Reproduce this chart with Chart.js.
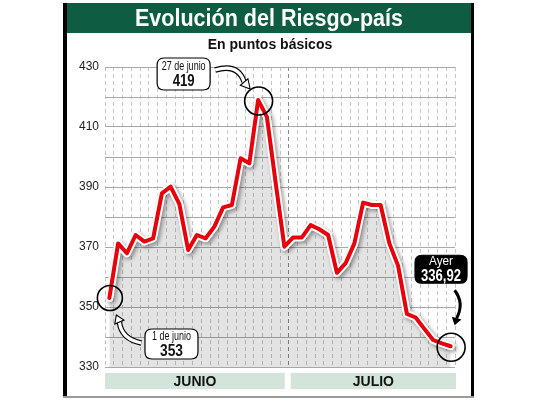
<!DOCTYPE html>
<html><head><meta charset="utf-8">
<script src="https://cdn.jsdelivr.net/npm/chart.js@4/dist/chart.umd.min.js"></script>
<style>html,body{margin:0;padding:0;background:#fff;}canvas{display:block;}</style>
</head><body>
<canvas id="c" width="540" height="405"></canvas>
<script>
// ---- data ----
const chartTitle = 'Evolución del Riesgo-país';
const chartSubtitle = 'En puntos básicos';
const monthNames = ['JUNIO', 'JULIO'];
const juneDays = ['1/6','2/6','5/6','6/6','7/6','8/6','9/6','12/6','13/6','14/6','15/6','16/6','19/6','21/6','22/6','23/6','26/6','27/6','28/6','29/6','30/6'];
const julyDays = ['3/7','4/7','5/7','6/7','7/7','10/7','11/7','12/7','13/7','14/7','17/7','18/7','19/7','20/7','21/7','24/7','25/7','26/7','27/7'];
const juneValues = [353, 371.2, 367.9, 374, 371.8, 372.9, 387.9, 390.1, 384.3, 369, 374, 372.9, 376.8, 383.2, 384, 399.6, 397.9, 419, 413.4, 391.5, 370.1];
const julyValues = [373.2, 373.2, 377.3, 375.9, 374, 361.4, 364.6, 371.2, 384.8, 384, 384, 371.2, 363.7, 347.7, 346.5, 342.7, 339, 337.9, 336.92];
const yTickLabels = [330, 350, 370, 390, 410, 430];
const calloutTop = ['1 de junio', '27 de junio', 'Ayer'];
const calloutValue = ['353', '419', '336,92'];
const calloutIndex = [0, 17, 39];

const labels = juneDays.concat(julyDays);
const values = juneValues.concat(julyValues);

const SANS = "'Liberation Sans', Arial, sans-serif";

function rrect(ctx, x, y, w, h, r) {
  ctx.beginPath();
  ctx.moveTo(x + r, y);
  ctx.lineTo(x + w - r, y); ctx.quadraticCurveTo(x + w, y, x + w, y + r);
  ctx.lineTo(x + w, y + h - r); ctx.quadraticCurveTo(x + w, y + h, x + w - r, y + h);
  ctx.lineTo(x + r, y + h); ctx.quadraticCurveTo(x, y + h, x, y + h - r);
  ctx.lineTo(x, y + r); ctx.quadraticCurveTo(x, y, x + r, y);
  ctx.closePath();
}
function fitText(ctx, text, cx, cy, font, targetW) {
  ctx.save();
  ctx.font = font;
  const w = ctx.measureText(text).width;
  ctx.translate(cx, cy);
  ctx.scale(Math.min(1, targetW / w), 1);
  ctx.textAlign = 'center'; ctx.textBaseline = 'middle';
  ctx.fillText(text, 0, 0);
  ctx.restore();
}
function arrow(ctx, t, c, b, tip, hollow) {
  const ang = Math.atan2(tip[1] - b[1], tip[0] - b[0]);
  const hw = 5;
  const px = Math.cos(ang + Math.PI / 2), py = Math.sin(ang + Math.PI / 2);
  const head = () => {
    ctx.beginPath();
    ctx.moveTo(tip[0], tip[1]);
    ctx.lineTo(b[0] + px * hw, b[1] + py * hw);
    ctx.lineTo(b[0] - px * hw, b[1] - py * hw);
    ctx.closePath();
  };
  const body = () => { ctx.beginPath(); ctx.moveTo(t[0], t[1]); ctx.quadraticCurveTo(c[0], c[1], b[0], b[1]); };
  ctx.lineCap = 'butt';
  if (hollow) {
    body(); ctx.strokeStyle = '#000'; ctx.lineWidth = 5.5; ctx.stroke();
    body(); ctx.strokeStyle = '#fff'; ctx.lineWidth = 3.2; ctx.stroke();
    head(); ctx.fillStyle = '#fff'; ctx.fill(); ctx.strokeStyle = '#000'; ctx.lineWidth = 1.1; ctx.stroke();
  } else {
    body(); ctx.strokeStyle = '#000'; ctx.lineWidth = 3; ctx.stroke();
    head(); ctx.fillStyle = '#000'; ctx.fill();
  }
}

const deco = {
  id: 'deco',
  beforeDraw(chart) {
    const ctx = chart.ctx;
    ctx.save();
    ctx.fillStyle = '#fff'; ctx.fillRect(0, 0, chart.width, chart.height);
    ctx.fillStyle = '#0e5c42'; ctx.fillRect(64, 3, 410, 30);
    ctx.fillStyle = '#000'; ctx.fillRect(63, 3, 4, 395); ctx.fillRect(471, 3, 3, 395);
    ctx.fillStyle = '#9a9a9a'; ctx.fillRect(63, 396, 411, 2);
    // title
    ctx.fillStyle = '#fff';
    fitText(ctx, chartTitle, 269, 19, 'bold 24px ' + SANS, 268);
    ctx.fillStyle = '#111';
    fitText(ctx, chartSubtitle, 270, 45, 'bold 14px ' + SANS, 126);
    // month bands
    const xs = chart.scales.x, a = chart.chartArea;
    const bnd = (xs.getPixelForValue(juneDays.length - 1) + xs.getPixelForValue(juneDays.length)) / 2;
    ctx.fillStyle = '#d3e5db';
    ctx.fillRect(a.left, 373, bnd - 4 - a.left, 16);
    ctx.fillRect(bnd + 2, 373, a.right + 1 - bnd - 2, 16);
    ctx.fillStyle = '#111';
    fitText(ctx, monthNames[0], (a.left + bnd - 4) / 2, 382, 'bold 14px ' + SANS, 43);
    fitText(ctx, monthNames[1], (bnd + 2 + a.right + 1) / 2, 382, 'bold 14px ' + SANS, 43);
    ctx.restore();
  },
  beforeDatasetDraw(chart, args) {
    if (args.index === 1) {
      const ctx = chart.ctx; ctx.save();
      ctx.shadowColor = 'rgba(0,0,0,0.4)'; ctx.shadowOffsetX = 2; ctx.shadowOffsetY = 2; ctx.shadowBlur = 4;
    }
  },
  afterDatasetDraw(chart, args) {
    if (args.index === 1) chart.ctx.restore();
  },
  afterDatasetsDraw(chart) {
    const ctx = chart.ctx, xs = chart.scales.x, ys = chart.scales.y;
    const P = calloutIndex.map(i => [xs.getPixelForValue(i), ys.getPixelForValue(values[i])]);
    ctx.save();
    // circles
    const radii = [12.5, 14, 14];
    P.forEach((p, k) => {
      ctx.beginPath(); ctx.arc(p[0] + 0.5, p[1] + (k === 0 ? 0 : 1), radii[k], 0, Math.PI * 2);
      ctx.strokeStyle = '#000'; ctx.lineWidth = 1.6; ctx.stroke();
    });
    // boxes
    const box = [
      { dx: 35.6, dy: 31, w: 53, h: 30, t1: 7.5, t2: 22.5, w1: 39, w2: 23, dark: false },
      { dx: -101, dy: -42, w: 53, h: 32, t1: 8.7, t2: 23.7, w1: 44, w2: 22, dark: false },
      { dx: -35.6, dy: -91, w: 52, h: 28, t1: 6.5, t2: 21.5, w1: 24, w2: 40, dark: true }
    ];
    box.forEach((b, k) => {
      const x = P[k][0] + b.dx, y = P[k][1] + b.dy;
      rrect(ctx, x, y, b.w, b.h, 7);
      ctx.fillStyle = b.dark ? '#000' : '#fff'; ctx.fill();
      ctx.strokeStyle = '#000'; ctx.lineWidth = 1.2; ctx.stroke();
      ctx.fillStyle = b.dark ? '#fff' : '#111';
      fitText(ctx, calloutTop[k], x + b.w / 2, y + b.t1, (b.dark ? '13px ' : '12px ') + SANS, b.w1);
      fitText(ctx, calloutValue[k], x + b.w / 2, y + b.t2, 'bold 16px ' + SANS, b.w2);
    });
    // arrows
    const p0 = P[0], p1 = P[1], p2 = P[2];
    arrow(ctx, [p0[0] + 32, p0[1] + 45], [p0[0] + 12, p0[1] + 41], [p0[0] + 10, p0[1] + 24], [p0[0] + 7, p0[1] + 17], true);
    arrow(ctx, [p1[0] - 43, p1[1] - 30], [p1[0] - 20, p1[1] - 37], [p1[0] - 14, p1[1] - 18], [p1[0] - 8, p1[1] - 11], true);
    arrow(ctx, [p2[0] + 4, p2[1] - 56], [p2[0] + 14, p2[1] - 43], [p2[0] + 6, p2[1] - 28], [p2[0] + 4, p2[1] - 21], false);
    ctx.restore();
  }
};

new Chart(document.getElementById('c'), {
  type: 'line',
  data: {
    labels: labels,
    datasets: [
      { data: values, borderColor: '#e8000b', borderWidth: 4, fill: false, pointRadius: 0, tension: 0, borderJoinStyle: 'round', borderCapStyle: 'round' },
      { data: values, borderColor: '#ffffff', borderWidth: 8, fill: false, pointRadius: 0, tension: 0, borderJoinStyle: 'round', borderCapStyle: 'round' },
      { data: values, borderWidth: 0, borderColor: 'rgba(0,0,0,0)', backgroundColor: 'rgba(0,0,0,0.11)', fill: 'start', pointRadius: 0, tension: 0 }
    ]
  },
  options: {
    responsive: false,
    animation: false,
    devicePixelRatio: 1,
    layout: { padding: { left: 65, right: 85, top: 67, bottom: 38 } },
    plugins: { legend: { display: false }, tooltip: { enabled: false }, title: { display: false } },
    scales: {
      x: {
        type: 'category', offset: true,
        ticks: { display: false },
        grid: {
          offset: true, drawTicks: false, lineWidth: 1,
          color: (c) => c.index === juneDays.length ? '#8a8a8a' : '#c6c6c6'
        },
        border: { display: false, dash: [4, 3] }
      },
      y: {
        min: 330, max: 430,
        afterFit: (s) => { s.width = 40; },
        ticks: {
          stepSize: 10, padding: 6, color: '#222',
          font: { family: SANS, size: 12 },
          callback: (v) => yTickLabels.includes(v) ? String(v) : ''
        },
        grid: { drawTicks: false, color: '#a9a9a9', lineWidth: 1 },
        border: { display: false }
      }
    }
  },
  plugins: [deco]
});
</script>
</body></html>
